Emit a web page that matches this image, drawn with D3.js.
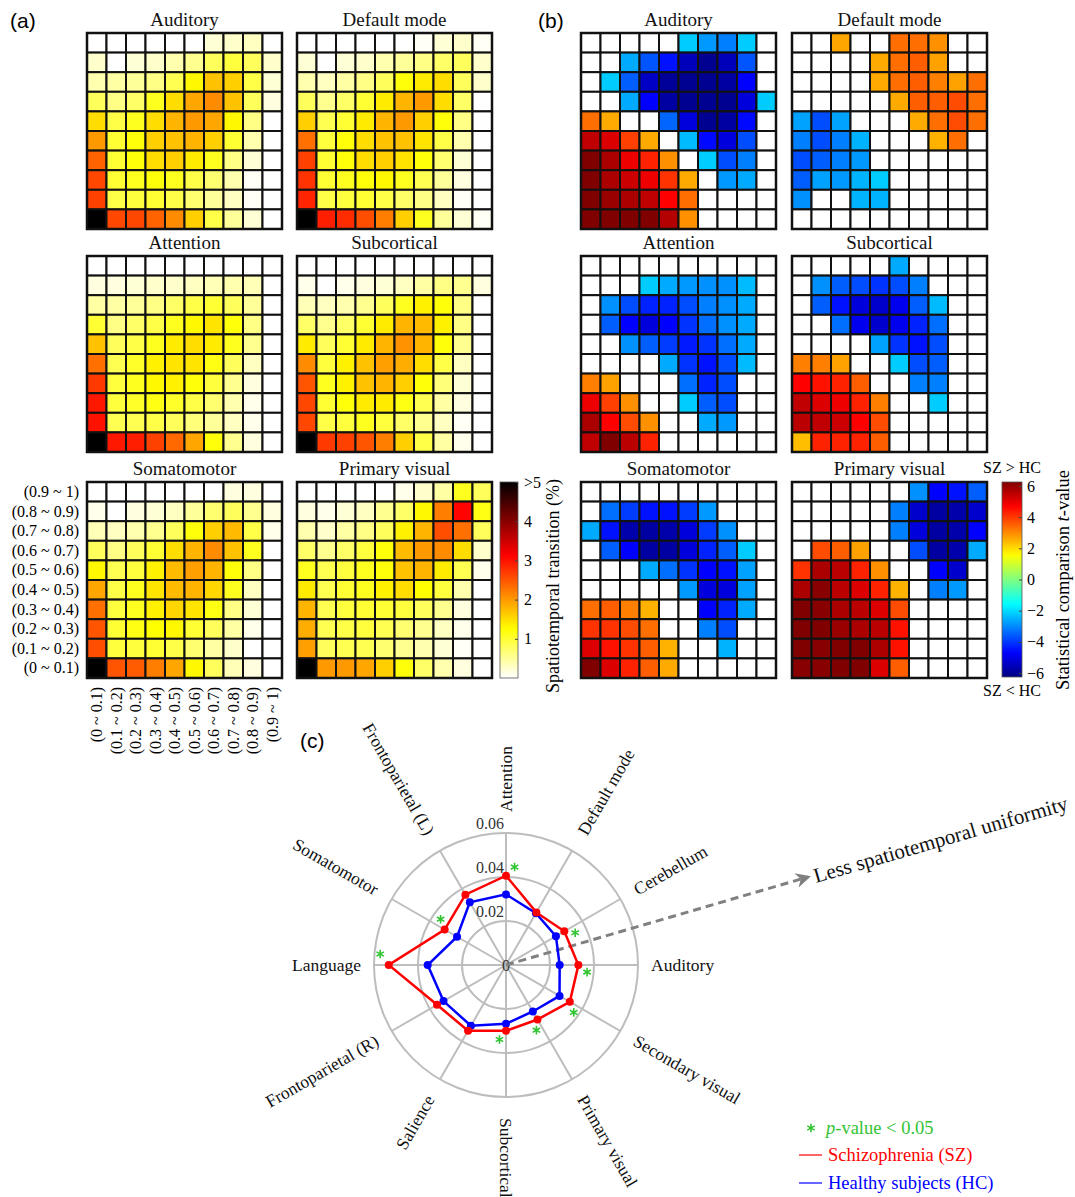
<!DOCTYPE html>
<html lang="en">
<head>
<meta charset="UTF-8" />
<title>Spatiotemporal transitions</title>
<script src="https://d3js.org/d3.v7.min.js"></script>
<style>
  body { margin: 0; background: #fff; }
  svg { display: block; font-family: "Liberation Serif", "Times New Roman", serif; }
  .panel-label { font-family: "Liberation Sans", Arial, sans-serif; font-size: 21px; }
  .title { font-size: 19px; text-anchor: middle; fill: #111; }
</style>
</head>
<body>
<svg id="chart" width="1075" height="1197"></svg>
<script>
const binLabels = ["(0 ~ 0.1)", "(0.1 ~ 0.2)", "(0.2 ~ 0.3)", "(0.3 ~ 0.4)", "(0.4 ~ 0.5)",
  "(0.5 ~ 0.6)", "(0.6 ~ 0.7)", "(0.7 ~ 0.8)", "(0.8 ~ 0.9)", "(0.9 ~ 1)"];
const networks = ["Auditory", "Default mode", "Attention", "Subcortical", "Somatomotor", "Primary visual"];

// (a) spatiotemporal transition (%), rows from top (0.9 ~ 1) to bottom (0 ~ 0.1)
const transAuditory = [
  [0, 0, 0, 0, 0, 0, 0.2, 0.25, 0.3, 0],
  [0.25, 0, 0.2, 0.25, 0.4, 0.55, 0.8, 0.95, 0.8, 0.25],
  [0.4, 0.45, 0.5, 0.6, 0.85, 1.3, 1.7, 1.6, 0.9, 0.2],
  [0.8, 0.6, 0.75, 1.1, 1.5, 1.9, 2.1, 1.7, 0.8, 0.15],
  [1.5, 0.9, 1.1, 1.5, 1.8, 2.0, 1.9, 1.3, 0.6, 0],
  [2.0, 1.0, 1.2, 1.6, 1.7, 1.8, 1.6, 1.0, 0.4, 0],
  [2.4, 1.0, 1.2, 1.5, 1.6, 1.4, 1.1, 0.6, 0.2, 0],
  [2.6, 1.0, 1.1, 1.2, 1.1, 0.9, 0.7, 0.4, 0.05, 0],
  [2.65, 0.9, 0.95, 1.0, 0.9, 0.7, 0.5, 0.3, 0.05, 0],
  [5.5, 2.6, 2.6, 2.4, 2.1, 1.6, 0.9, 0.5, 0.2, 0]
];
const transDefault = [
  [0, 0, 0, 0, 0, 0, 0.05, 0.2, 0.25, 0.05],
  [0.2, 0, 0.2, 0.25, 0.4, 0.5, 0.6, 0.75, 0.8, 0.25],
  [0.4, 0.3, 0.45, 0.6, 0.8, 1.2, 1.4, 1.5, 0.8, 0.25],
  [0.8, 0.55, 0.75, 1.0, 1.4, 1.8, 2.0, 1.5, 0.75, 0],
  [1.6, 0.85, 1.0, 1.4, 1.8, 2.0, 1.6, 1.2, 0.6, 0],
  [2.3, 0.95, 1.2, 1.5, 1.7, 1.7, 1.45, 0.9, 0.4, 0],
  [2.65, 1.0, 1.2, 1.5, 1.6, 1.45, 1.2, 0.7, 0.2, 0],
  [2.75, 1.0, 1.1, 1.2, 1.3, 1.1, 0.85, 0.5, 0.15, 0],
  [2.85, 0.9, 0.95, 1.0, 0.9, 0.75, 0.6, 0.3, 0.05, 0],
  [5.5, 2.9, 2.8, 2.55, 2.2, 1.6, 1.1, 0.5, 0.2, 0.05]
];
const transAttention = [
  [0, 0, 0, 0, 0, 0, 0, 0, 0, 0],
  [0.15, 0.15, 0.2, 0.25, 0.25, 0.3, 0.35, 0.4, 0.35, 0],
  [0.45, 0.45, 0.5, 0.6, 0.75, 0.9, 1.0, 0.8, 0.5, 0],
  [1.0, 0.6, 0.75, 0.9, 1.1, 1.3, 1.45, 1.2, 0.6, 0],
  [1.7, 0.8, 0.9, 1.1, 1.4, 1.5, 1.4, 1.1, 0.55, 0],
  [2.3, 0.85, 1.05, 1.35, 1.45, 1.45, 1.15, 0.8, 0.3, 0],
  [2.7, 0.95, 1.1, 1.3, 1.35, 1.2, 0.95, 0.55, 0.15, 0],
  [2.95, 0.95, 1.05, 1.15, 1.05, 0.9, 0.7, 0.4, 0.1, 0],
  [3.0, 0.85, 0.85, 0.9, 0.8, 0.65, 0.5, 0.3, 0.1, 0],
  [5.5, 2.95, 2.9, 2.65, 2.35, 1.9, 1.2, 0.55, 0.15, 0]
];
const transSubcortical = [
  [0, 0, 0, 0, 0, 0, 0, 0, 0, 0],
  [0.1, 0, 0.1, 0.15, 0.2, 0.3, 0.45, 0.6, 0.55, 0.15],
  [0.35, 0.3, 0.4, 0.55, 0.8, 1.1, 1.35, 1.2, 0.6, 0],
  [0.75, 0.55, 0.75, 1.0, 1.4, 1.8, 1.75, 1.35, 0.6, 0],
  [1.4, 0.8, 1.0, 1.4, 1.8, 2.05, 1.8, 1.2, 0.55, 0],
  [2.1, 0.95, 1.35, 1.7, 1.95, 1.85, 1.5, 0.9, 0.3, 0],
  [2.5, 1.1, 1.35, 1.7, 1.8, 1.6, 1.2, 0.65, 0.2, 0],
  [2.6, 1.0, 1.2, 1.4, 1.4, 1.15, 0.85, 0.45, 0.15, 0],
  [2.6, 0.9, 0.95, 1.1, 0.95, 0.75, 0.55, 0.3, 0.05, 0],
  [5.5, 2.7, 2.65, 2.5, 2.2, 1.6, 0.9, 0.45, 0.1, 0]
];
const transSomatomotor = [
  [0, 0, 0, 0, 0, 0, 0, 0.15, 0.15, 0],
  [0.1, 0, 0.15, 0.2, 0.3, 0.5, 0.7, 0.8, 0.55, 0.15],
  [0.35, 0.3, 0.4, 0.55, 0.8, 1.2, 1.6, 1.75, 0.9, 0.1],
  [0.8, 0.6, 0.8, 1.0, 1.5, 1.8, 2.1, 1.7, 1.1, 0],
  [1.3, 0.85, 0.95, 1.35, 1.75, 1.95, 1.8, 1.2, 0.6, 0],
  [1.9, 0.9, 1.1, 1.45, 1.75, 1.8, 1.55, 1.1, 0.3, 0],
  [2.3, 0.95, 1.1, 1.35, 1.55, 1.45, 1.15, 0.6, 0.2, 0],
  [2.5, 1.0, 1.15, 1.25, 1.3, 1.0, 0.8, 0.45, 0.1, 0],
  [2.55, 0.95, 0.95, 1.0, 0.9, 0.7, 0.45, 0.25, 0, 0],
  [5.5, 2.5, 2.45, 2.2, 1.9, 1.3, 0.8, 0.35, 0.15, 0]
];
const transPrimaryVisual = [
  [0, 0, 0, 0, 0, 0.1, 0.25, 0.45, 1.1, 0.8],
  [0.15, 0.1, 0.2, 0.3, 0.55, 0.75, 1.3, 2.2, 3.1, 1.15],
  [0.4, 0.25, 0.45, 0.6, 0.8, 1.35, 1.8, 2.55, 2.3, 0.8],
  [0.75, 0.55, 0.75, 0.95, 1.2, 1.75, 2.0, 2.1, 1.5, 0.25],
  [1.1, 0.85, 0.95, 1.1, 1.2, 1.7, 1.8, 1.4, 0.85, 0.1],
  [1.4, 0.85, 1.0, 1.1, 1.35, 1.5, 1.25, 0.95, 0.4, 0],
  [1.8, 0.85, 0.95, 1.0, 1.0, 0.95, 0.8, 0.55, 0.15, 0],
  [1.85, 0.85, 0.9, 0.95, 0.85, 0.7, 0.55, 0.3, 0.1, 0],
  [1.95, 0.8, 0.85, 0.85, 0.7, 0.55, 0.4, 0.2, 0.05, 0],
  [5.5, 2.0, 2.0, 1.9, 1.6, 1.2, 0.75, 0.4, 0.15, 0]
];

// (b) statistical comparison t-value (SZ vs HC), 0 = not significant
const tAuditory = [
  [0, 0, 0, 0, 0, -2.1, -2.7, -3.0, -2.1, 0],
  [0, 0, -2.5, -3.5, -4.3, -5.3, -5.8, -5.3, -3.5, 0],
  [0, -2.1, -3.4, -5.2, -5.7, -5.8, -5.8, -5.6, -4.5, 0],
  [0, 0, -2.5, -4.5, -5.6, -5.8, -5.8, -5.8, -4.9, -2.1],
  [3.2, 2.5, 0, 0, -3.3, -4.9, -5.8, -5.6, -4.4, 0],
  [5.25, 4.9, 3.75, 2.5, 0, -2.3, -4.4, -4.9, -3.6, 0],
  [6, 5.5, 4.7, 4.1, 2.8, 0, -2.1, -3.6, -3.0, 0],
  [6, 5.5, 5.1, 4.7, 3.9, 2.5, 0, -2.7, -2.5, 0],
  [6, 5.7, 5.5, 5.25, 4.5, 3.2, 0, 0, 0, 0],
  [6, 6, 6, 6, 5.4, 2.8, 0, 0, 0, 0]
];
const tDefault = [
  [0, 0, 2.55, 0, 0, 3.2, 3.2, 2.8, 0, 0],
  [0, 0, 0, 0, 2.5, 3.2, 3.4, 2.6, 0, 0],
  [0, 0, 0, 0, 2.5, 3.2, 3.4, 3.0, 2.6, 3.2],
  [0, 0, 0, 0, 0, 2.5, 3.4, 3.4, 3.6, 3.2],
  [-2.6, -3.6, -2.6, 0, 0, 0, 2.5, 3.2, 3.6, 3.2],
  [-3.0, -3.6, -3.0, -2.4, 0, 0, 0, 2.4, 3.2, 0],
  [-3.6, -3.4, -3.0, -2.7, 0, 0, 0, 0, 0, 0],
  [-3.4, -2.6, -2.7, -2.4, -2.1, 0, 0, 0, 0, 0],
  [-2.8, 0, 0, -2.4, -2.4, 0, 0, 0, 0, 0],
  [0, 0, 0, 0, 0, 0, 0, 0, 0, 0]
];
const tAttention = [
  [0, 0, 0, 0, 0, 0, 0, 0, 0, 0],
  [0, 0, 0, -2.1, -2.5, -2.7, -2.8, -2.8, -2.3, 0],
  [0, -2.8, -3.6, -4.1, -4.1, -3.6, -3.0, -2.8, -2.5, 0],
  [0, -3.4, -4.5, -4.9, -4.5, -3.9, -3.2, -2.8, -2.5, 0],
  [0, 0, -2.8, -3.4, -3.8, -4.2, -3.9, -3.2, -2.5, 0],
  [0, 0, 0, 0, -2.5, -3.9, -4.3, -3.6, -2.3, 0],
  [3.0, 2.6, 0, 0, 0, -3.2, -4.1, -3.6, 0, 0],
  [4.7, 3.75, 2.8, 0, 0, -2.1, -3.4, -3.6, 0, 0],
  [5.5, 4.5, 3.6, 2.8, 0, 0, -2.5, -2.7, 0, 0],
  [5.25, 6, 5.3, 4.1, 0, 0, 0, 0, 0, 0]
];
const tSubcortical = [
  [0, 0, 0, 0, 0, -2.5, 0, 0, 0, 0],
  [0, -2.8, -3.4, -3.6, -3.9, -3.6, -3.0, 0, 0, 0],
  [0, -3.4, -4.3, -4.9, -5.1, -4.7, -3.4, -2.3, 0, 0],
  [0, 0, -3.2, -4.7, -5.1, -4.7, -4.1, -3.2, 0, 0],
  [0, 0, 0, 0, -2.6, -3.9, -4.3, -3.6, 0, 0],
  [3.0, 3.0, 2.6, 0, 0, -2.1, -3.6, -3.4, 0, 0],
  [4.5, 4.3, 4.1, 3.4, 0, 0, -3.0, -3.0, 0, 0],
  [5.25, 4.9, 4.7, 4.1, 3.0, 0, 0, -2.1, 0, 0],
  [5.3, 5.25, 5.1, 4.5, 3.6, 0, 0, 0, 0, 0],
  [2.25, 4.1, 4.1, 4.1, 3.4, 0, 0, 0, 0, 0]
];
const tSomatomotor = [
  [0, 0, 0, 0, 0, 0, 0, 0, 0, 0],
  [0, -3.2, -3.8, -4.3, -4.3, -3.8, -2.7, 0, 0, 0],
  [-2.5, -4.3, -5.5, -5.6, -5.5, -4.9, -3.8, -2.8, 0, 0],
  [0, -3.4, -4.5, -5.6, -5.6, -4.9, -4.1, -3.4, -2.1, 0],
  [0, 0, 0, -2.5, -3.2, -3.9, -4.5, -4.3, -2.6, 0],
  [0, 0, 0, 0, 0, -2.7, -4.9, -4.9, -2.6, 0],
  [3.2, 3.4, 3.0, 2.4, 0, 0, -4.5, -4.1, -2.5, 0],
  [3.9, 3.9, 3.6, 3.2, 0, 0, -3.0, -3.6, 0, 0],
  [4.9, 4.3, 3.9, 3.4, 2.4, 0, 0, -2.4, 0, 0],
  [6, 4.9, 4.1, 3.4, 2.5, 0, 0, 0, 0, 0]
];
const tPrimaryVisual = [
  [0, 0, 0, 0, 0, 0, -2.8, -4.5, -4.3, -3.4],
  [0, 0, 0, 0, 0, -3.0, -5.1, -5.6, -5.5, -5.1],
  [0, 0, 0, 0, 0, -3.0, -4.9, -5.6, -5.5, -4.5],
  [0, 3.6, 3.4, 2.6, 0, 0, -3.6, -5.6, -5.5, -2.5],
  [3.9, 5.5, 5.3, 4.1, 2.8, 0, 0, -4.5, -5.1, 0],
  [5.5, 5.9, 5.3, 4.9, 4.1, 2.4, 0, -3.0, -2.7, 0],
  [6, 5.9, 5.5, 5.3, 4.9, 3.6, 0, 0, 0, 0],
  [6, 6, 5.7, 5.5, 5.3, 4.3, 0, 0, 0, 0],
  [6, 5.9, 6, 6, 5.5, 4.3, 0, 0, 0, 0],
  [5.9, 5.9, 6, 6, 4.9, 3.4, 0, 0, 0, 0]
];

const transData = [transAuditory, transDefault, transAttention, transSubcortical, transSomatomotor, transPrimaryVisual];
const tData = [tAuditory, tDefault, tAttention, tSubcortical, tSomatomotor, tPrimaryVisual];

// (c) radar
const radarNetworks = ["Attention", "Default mode", "Cerebellum", "Auditory", "Secondary visual", "Primary visual",
  "Subcortical", "Salience", "Frontoparietal (R)", "Language", "Somatomotor", "Frontoparietal (L)"];
const szValues = [0.0406, 0.0276, 0.0306, 0.0329, 0.0335, 0.0286, 0.0299, 0.0345, 0.0362, 0.0533, 0.0322, 0.0369];
const hcValues = [0.0321, 0.0272, 0.0262, 0.0244, 0.0281, 0.0244, 0.0267, 0.0319, 0.0328, 0.0356, 0.0257, 0.0329];
const significant = [true, false, true, true, true, true, true, false, false, true, true, false];
const ringValues = [0.02, 0.04, 0.06];

const svg = d3.select("#chart");
const gridW = 195, gridH = 196;
const colsA = [87, 297], colsB = [581, 792], rowsY = [33, 256, 482];

const hotColor = d3.scaleLinear().domain([0, 1.25, 3.125, 5])
  .range(["#ffffff", "#ffff00", "#ff0000", "#000000"]).clamp(true);
const jetColor = d3.scaleLinear().domain([-6, -4.5, -1.5, 1.5, 4.5, 6])
  .range(["#000080", "#0000ff", "#00ffff", "#ffff00", "#ff0000", "#800000"]).clamp(true);

function heatmap(g, matrix, color) {
  const x = d3.scaleBand().domain(binLabels).range([0, gridW]);
  const y = d3.scaleBand().domain([...binLabels].reverse()).range([0, gridH]);
  const cells = matrix.flatMap((row, i) => row.map((v, j) => ({ row: binLabels[9 - i], col: binLabels[j], v })));
  g.selectAll("rect.cell").data(cells).join("rect")
    .attr("class", "cell")
    .attr("x", d => x(d.col)).attr("y", d => y(d.row))
    .attr("width", x.bandwidth()).attr("height", y.bandwidth())
    .attr("fill", d => color(d.v))
    .attr("stroke", "#111").attr("stroke-width", 2);
  g.append("rect").attr("width", gridW).attr("height", gridH)
    .attr("fill", "none").attr("stroke", "#111").attr("stroke-width", 2.5);
  return { x, y };
}

// panel labels
svg.append("text").attr("class", "panel-label").attr("x", 10).attr("y", 28).text("(a)");
svg.append("text").attr("class", "panel-label").attr("x", 538).attr("y", 28).text("(b)");
svg.append("text").attr("class", "panel-label").attr("x", 300).attr("y", 748).text("(c)");

networks.forEach((name, k) => {
  const col = k % 2, row = Math.floor(k / 2);
  const gA = svg.append("g").attr("transform", `translate(${colsA[col]},${rowsY[row]})`);
  const scales = heatmap(gA, transData[k], hotColor);
  gA.append("text").attr("class", "title").attr("x", gridW / 2).attr("y", -7).text(name);

  const gB = svg.append("g").attr("transform", `translate(${colsB[col]},${rowsY[row]})`);
  heatmap(gB, tData[k], v => (v === 0 ? "#ffffff" : jetColor(v)));
  gB.append("text").attr("class", "title").attr("x", gridW / 2).attr("y", -7).text(name);

  if (k === 4) {
    const yAxis = gA.append("g").call(d3.axisLeft(scales.y).tickSize(0).tickPadding(8));
    yAxis.select(".domain").remove();
    yAxis.attr("font-family", null).attr("font-size", 16);
    const xAxis = gA.append("g").attr("transform", `translate(0,${gridH})`)
      .call(d3.axisBottom(scales.x).tickSize(0));
    xAxis.select(".domain").remove();
    xAxis.attr("font-family", null).attr("font-size", 16);
    xAxis.selectAll("text").attr("transform", "rotate(-90)")
      .attr("x", -9).attr("y", 0).attr("dy", "0.35em").style("text-anchor", "end");
  }
});

// colour bars
const defs = svg.append("defs");
function gradient(id, color, domain) {
  const grad = defs.append("linearGradient").attr("id", id)
    .attr("x1", 0).attr("y1", 1).attr("x2", 0).attr("y2", 0);
  d3.range(0, 1.0001, 0.02).forEach(t => {
    grad.append("stop").attr("offset", t).attr("stop-color", color(domain[0] + t * (domain[1] - domain[0])));
  });
}
gradient("hotGrad", hotColor, [0, 5]);
gradient("jetGrad", jetColor, [-6, 6]);

const cbA = svg.append("g").attr("transform", `translate(500,${rowsY[2]})`);
cbA.append("rect").attr("width", 18).attr("height", gridH).attr("fill", "url(#hotGrad)")
  .attr("stroke", "#555").attr("stroke-width", 0.8);
const cbAScale = d3.scaleLinear().domain([0, 5]).range([gridH, 0]);
const cbAAxis = cbA.append("g").attr("transform", "translate(18,0)")
  .call(d3.axisRight(cbAScale).tickValues([1, 2, 3, 4, 5]).tickFormat(d => (d === 5 ? ">5" : d)).tickSize(-3).tickPadding(6));
cbAAxis.select(".domain").remove();
cbAAxis.attr("font-family", null).attr("font-size", 16);
cbAAxis.selectAll("line").attr("stroke", "#444");
svg.append("text").attr("transform", `translate(559,${rowsY[2] + 104}) rotate(-90)`)
  .attr("text-anchor", "middle").attr("font-size", 18).text("Spatiotemporal transition (%)");

const cbB = svg.append("g").attr("transform", `translate(1002,${rowsY[2]})`);
cbB.append("rect").attr("width", 20).attr("height", 195).attr("fill", "url(#jetGrad)")
  .attr("stroke", "#555").attr("stroke-width", 0.8);
const cbBScale = d3.scaleLinear().domain([-6, 6]).range([191, 4]);
const cbBAxis = cbB.append("g").attr("transform", "translate(20,0)")
  .call(d3.axisRight(cbBScale).tickValues([-6, -4, -2, 0, 2, 4, 6]).tickSize(-3).tickPadding(5));
cbBAxis.select(".domain").remove();
cbBAxis.attr("font-family", null).attr("font-size", 16);
cbBAxis.selectAll("line").attr("stroke", "#444");
svg.append("text").attr("x", 1012).attr("y", rowsY[2] - 9).attr("text-anchor", "middle")
  .attr("font-size", 16).text("SZ > HC");
svg.append("text").attr("x", 1012).attr("y", rowsY[2] + 214).attr("text-anchor", "middle")
  .attr("font-size", 16).text("SZ < HC");
const tLabel = svg.append("text").attr("transform", `translate(1069,${rowsY[2] + 98}) rotate(-90)`)
  .attr("text-anchor", "middle").attr("font-size", 18.5);
tLabel.append("tspan").text("Statistical comparison  ");
tLabel.append("tspan").attr("font-style", "italic").text("t");
tLabel.append("tspan").text("-value");

// (c) radar chart
const cx = 506, cy = 965;
const rScale = d3.scaleLinear().domain([0, 0.06]).range([0, 132]);
const angle = d3.scaleLinear().domain([0, radarNetworks.length]).range([0, 2 * Math.PI]);
const radar = svg.append("g").attr("transform", `translate(${cx},${cy})`);

radar.selectAll("circle.ring").data(ringValues).join("circle")
  .attr("class", "ring").attr("r", d => rScale(d))
  .attr("fill", "none").attr("stroke", "#bdbdbd").attr("stroke-width", 2);
radar.selectAll("line.spoke").data(radarNetworks).join("line")
  .attr("class", "spoke")
  .attr("x2", (d, i) => rScale(0.06) * Math.sin(angle(i)))
  .attr("y2", (d, i) => -rScale(0.06) * Math.cos(angle(i)))
  .attr("stroke", "#bdbdbd").attr("stroke-width", 2);

radar.selectAll("text.ringlabel").data(ringValues).join("text")
  .attr("class", "ringlabel").attr("x", -2).attr("y", d => -rScale(d) - 4)
  .attr("text-anchor", "end").attr("font-size", 16).attr("fill", "#333")
  .text(d => d.toFixed(2));
radar.append("text").attr("dy", "0.35em").attr("text-anchor", "middle")
  .attr("font-size", 16).attr("fill", "#333").text("0");

// direction arrow
defs.append("marker").attr("id", "arrowHead").attr("viewBox", "0 0 10 10")
  .attr("refX", 8).attr("refY", 5).attr("markerWidth", 5).attr("markerHeight", 5)
  .attr("orient", "auto")
  .append("path").attr("d", "M0,0 L10,5 L0,10 L3,5 Z").attr("fill", "#808080");
radar.append("line").attr("x1", 0).attr("y1", 0).attr("x2", 302).attr("y2", -88)
  .attr("stroke", "#808080").attr("stroke-width", 3).attr("stroke-dasharray", "8,5")
  .attr("marker-end", "url(#arrowHead)");
svg.append("text").attr("transform", `translate(${cx + 310},${cy - 82}) rotate(-16.2)`)
  .attr("font-size", 21).attr("fill", "#111").text("Less spatiotemporal uniformity");

const radialLine = d3.lineRadial().angle((d, i) => angle(i)).radius(d => rScale(d)).curve(d3.curveLinearClosed);
[[hcValues, "#0000ff"], [szValues, "#ff0000"]].forEach(([vals, col]) => {
  radar.append("path").datum(vals).attr("d", radialLine)
    .attr("fill", "none").attr("stroke", col).attr("stroke-width", 2.5);
  radar.selectAll(null).data(vals).join("circle")
    .attr("cx", (d, i) => rScale(d) * Math.sin(angle(i)))
    .attr("cy", (d, i) => -rScale(d) * Math.cos(angle(i)))
    .attr("r", 4).attr("fill", col);
});

const green = "#33c433";
const star = d3.symbol().type(d3.symbolAsterisk).size(52);
radar.selectAll("path.star").data(szValues.map((v, i) => ({ v, i })).filter(d => significant[d.i])).join("path")
  .attr("class", "star").attr("d", star)
  .attr("transform", d => {
    const a = angle(d.i) + 5 * Math.PI / 180, r = rScale(d.v) + 9;
    return `translate(${r * Math.sin(a)},${-r * Math.cos(a)})`;
  })
  .attr("fill", "none").attr("stroke", green).attr("stroke-width", 1.6);

radar.selectAll("text.axislabel").data(radarNetworks).join("text")
  .attr("class", "axislabel")
  .attr("font-size", 17.5).attr("fill", "#111").attr("dominant-baseline", "central")
  .attr("text-anchor", (d, i) => (Math.cos(angle(i) - Math.PI / 2) > -0.01 ? "start" : "end"))
  .attr("transform", (d, i) => {
    const th = angle(i) - Math.PI / 2;
    const r = 145 + 8 * Math.abs(Math.sin(th));
    const deg = th * 180 / Math.PI + (Math.cos(th) > -0.01 ? 0 : 180);
    return `translate(${r * Math.cos(th)},${r * Math.sin(th)}) rotate(${deg})`;
  })
  .text(d => d);

// legend
const legend = svg.append("g").attr("font-size", 18.5);
legend.append("path").attr("d", star).attr("transform", "translate(811,1128)")
  .attr("fill", "none").attr("stroke", green).attr("stroke-width", 1.6);
const pText = legend.append("text").attr("x", 826).attr("y", 1134).attr("fill", green);
pText.append("tspan").attr("font-style", "italic").text("p");
pText.append("tspan").text("-value < 0.05");
legend.append("line").attr("x1", 799).attr("x2", 822).attr("y1", 1155).attr("y2", 1155)
  .attr("stroke", "#ff0000").attr("stroke-width", 1.2);
legend.append("text").attr("x", 828).attr("y", 1161).attr("fill", "#ff0000").text("Schizophrenia (SZ)");
legend.append("line").attr("x1", 799).attr("x2", 822).attr("y1", 1183).attr("y2", 1183)
  .attr("stroke", "#0000ff").attr("stroke-width", 1.2);
legend.append("text").attr("x", 828).attr("y", 1189).attr("fill", "#0000ff").text("Healthy subjects (HC)");
</script>
</body>
</html>
